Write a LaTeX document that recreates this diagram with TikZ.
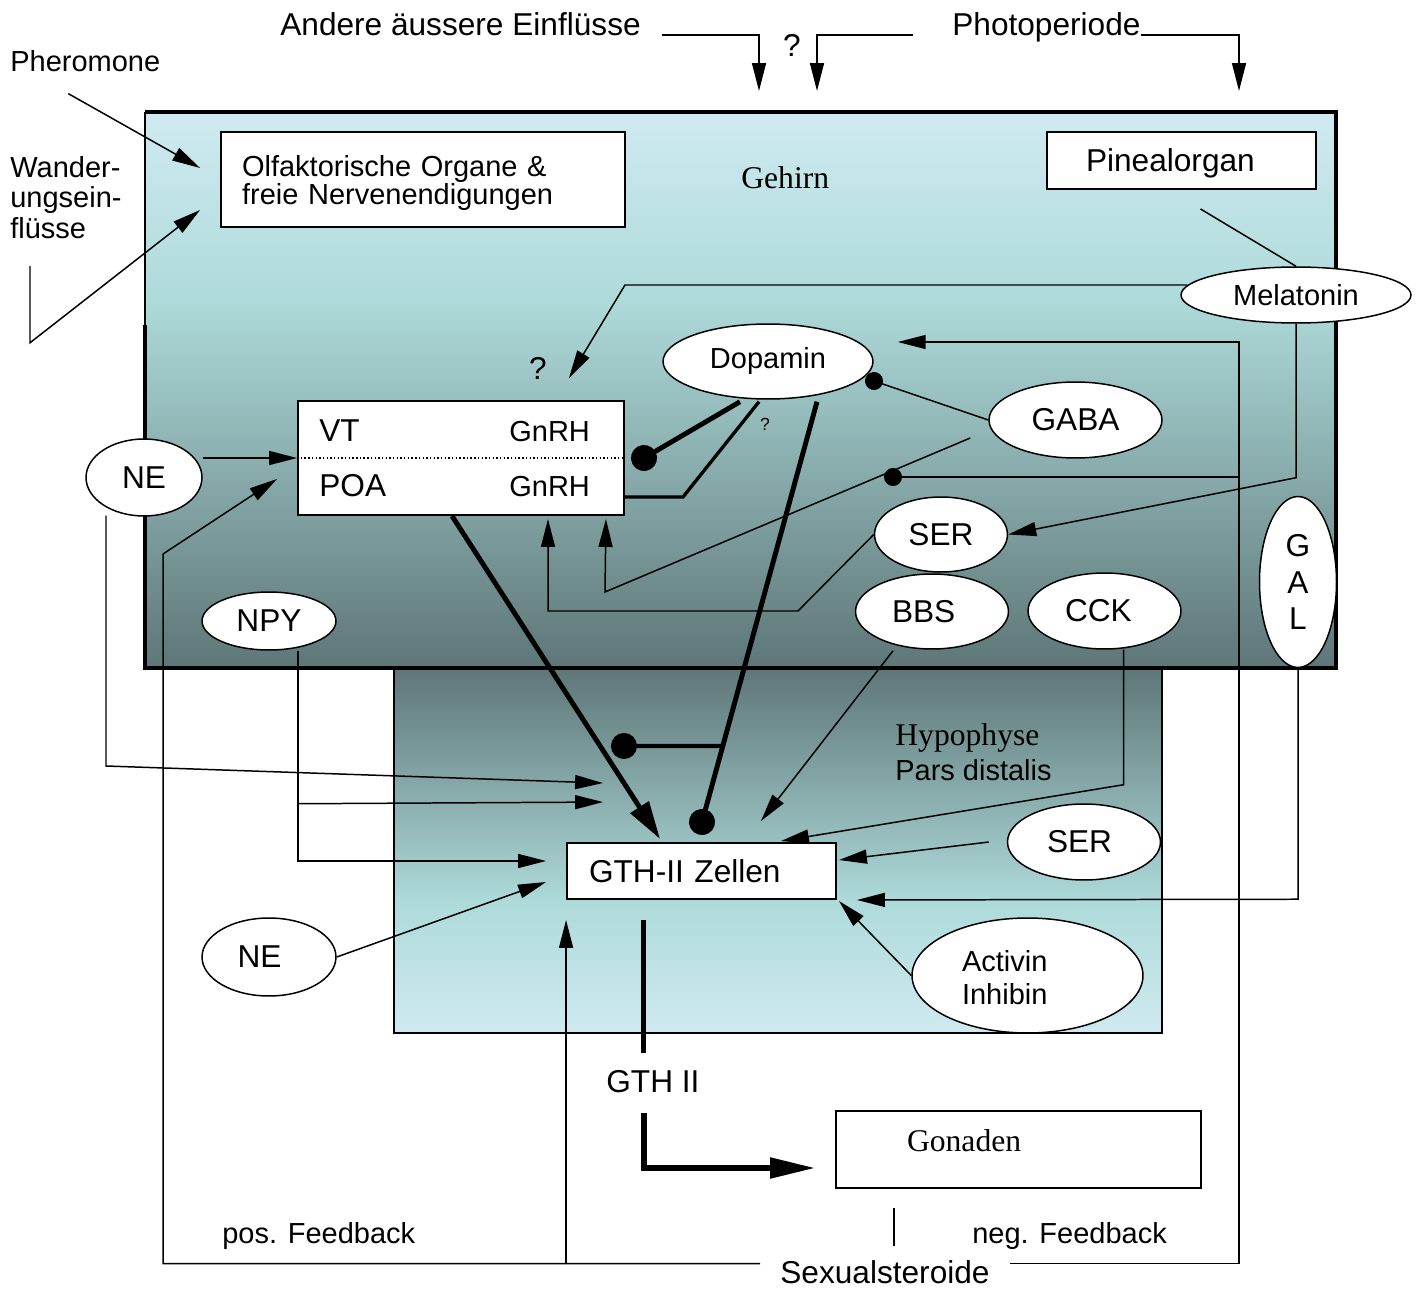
\documentclass[tikz,border=0pt]{standalone}
\usepackage{fontspec}
\setmainfont{Liberation Sans}
\newfontfamily\timesfont{Liberation Serif}
\usepackage{xcolor}
\usepackage{tikz}
\usetikzlibrary{positioning}
\usetikzlibrary{arrows.meta}
\usetikzlibrary{shapes.geometric}
\usetikzlibrary{calc}

\definecolor{paleblue}{RGB}{207,234,240}
\definecolor{midteal}{RGB}{174,218,218}
\definecolor{slateteal}{RGB}{94,118,119}
\pgfdeclareverticalshading{brainshade}{100bp}{color(0bp)=(slateteal); color(25bp)=(slateteal); color(58bp)=(midteal); color(75bp)=(paleblue); color(100bp)=(paleblue)}
\pgfdeclareverticalshading{hypshade}{100bp}{color(0bp)=(paleblue); color(25bp)=(paleblue); color(43bp)=(midteal); color(75bp)=(slateteal); color(100bp)=(slateteal)}

\newcommand\bigsz{\fontsize{18}{21}\selectfont}
\newcommand\smallsz{\fontsize{16.5}{17.3}\selectfont}

\tikzset{
  lbl/.style={inner sep=0pt, font=\smallsz},
  biglbl/.style={inner sep=0pt, font=\bigsz},
  organbox/.style={draw, line width=1.1pt, fill=white, align=left, inner ysep=0pt},
  hormone/.style={ellipse, draw, line width=0.85pt, fill=white, inner sep=0pt, font=\bigsz},
  thinline/.style={line width=0.85pt},
  arr/.style={line width=0.85pt, -{Triangle[length=0.56cm,width=0.28cm]}},
  thickarr/.style={line width=2.8pt, -{Triangle[length=0.76cm,width=0.42cm]}},
  gonarr/.style={line width=3pt, -{Triangle[length=0.9cm,width=0.4cm]}},
  thickline/.style={line width=2.8pt},
  smalldot/.style={line width=0.85pt, -{Circle[length=0.36cm]}, shorten >=-0.18cm},
  bigdot/.style={line width=2.8pt, -{Circle[length=0.52cm]}, shorten >=-0.26cm}
}

\begin{document}
\begin{tikzpicture}[x=0.02cm, y=-0.02cm]
  \useasboundingbox (0,0) rectangle (1421,1291);

  % Hypophyse and Gehirn
  \shade[shading=hypshade] (394,668) rectangle (1162,1033);
  \draw[line width=1.5pt] (394,668) rectangle (1162,1033);
  \shade[shading=brainshade] (145,112) rectangle (1336,668);
  \draw[thinline] (145,112) -- (145,325);
  \draw[line width=2.3pt] (145,325) -- (145,668) -- (1336,668) -- (1336,112) -- (145,112);

  % labels
  \node[biglbl, anchor=base west] (andere) at (280,36) {Andere äussere Einflüsse};
  \node[biglbl, anchor=base west] (photo) at (952,36) {Photoperiode};
  \node[biglbl, anchor=base] (q1) at (792,57) {?};
  \node[lbl, anchor=base west] (phero) at (10,72) {Pheromone};
  \node[lbl, anchor=north west, align=left] (wander) at (10,156) {Wander-\\ungsein-\\flüsse};
  \node[biglbl, anchor=base west, font=\timesfont\bigsz] (gehirn) at (741,189) {Gehirn};
  \node[biglbl, anchor=base west, font=\timesfont\bigsz] (hypo) at (895,745) {Hypophyse};
  \node[lbl, anchor=base west] (pars) at (895,780) {Pars distalis};
  \node[biglbl, anchor=base] (q2) at (538,379) {?};
  \node[lbl, anchor=base, font=\fontsize{10}{11}\selectfont] (q3) at (765,430) {?};
  \node[biglbl, anchor=base west] (gthii) at (606,1092) {GTH II};
  \node[lbl, anchor=base west] (posfb) at (222,1243) {pos. Feedback};
  \node[lbl, anchor=base west] (negfb) at (972,1243) {neg. Feedback};
  \node[biglbl, anchor=base west] (sexst) at (780,1283) {Sexualsteroide};

  % boxes
  \node[organbox, minimum width=8.08cm, minimum height=1.9cm, text width=7.24cm, inner xsep=0.42cm,
        font=\fontsize{16.5}{16.5}\selectfont, text height=0.42cm, text depth=0.56cm] (olf) at (423,179.5)
        {Olfaktorische Organe \&\\freie Nervenendigungen};
  \node[organbox, minimum width=5.38cm, minimum height=1.14cm, text width=3.82cm, inner xsep=0.78cm,
        font=\bigsz, text height=0.5cm, text depth=0.04cm] (pineal) at (1181.5,160.5) {Pinealorgan};
  \node[organbox, minimum width=6.52cm, minimum height=2.28cm] (gnrh) at (461,458) {};
  \draw[line width=0.8pt, dash pattern=on 0.8pt off 1.3pt] (gnrh.west) -- (gnrh.east);
  \node[biglbl, anchor=base west] (vt) at (319,441) {VT};
  \node[lbl, anchor=base west] (gnrhvt) at (509,441) {GnRH};
  \node[biglbl, anchor=base west] (poa) at (319,496) {POA};
  \node[lbl, anchor=base west] (gnrhpoa) at (509,496) {GnRH};
  \node[organbox, minimum width=5.38cm, minimum height=1.12cm, text width=4.5cm, inner xsep=0.44cm,
        font=\bigsz] (gth) at (701.5,871) {GTH-II Zellen};
  \node[organbox, minimum width=7.3cm, minimum height=1.54cm, text width=4.46cm, inner xsep=1.42cm,
        font=\timesfont\bigsz, text height=0.42cm, text depth=0.36cm] (gonaden) at (1018.5,1149.5) {Gonaden};

  % hormones
  \node[hormone, font=\smallsz, minimum width=4.6cm, minimum height=1.12cm] (mel) at (1296,295) {Melatonin};
  \node[hormone, font=\smallsz, minimum width=4.2cm, minimum height=1.5cm] (dopa) at (768,361.5) {Dopamin};
  \node[hormone, minimum width=3.46cm, minimum height=1.52cm] (gaba) at (1075.5,420) {GABA};
  \node[hormone, minimum width=2.66cm, minimum height=1.5cm] (ser1) at (941,534.5) {SER};
  \node[hormone, minimum width=3.06cm, minimum height=1.5cm, text width=1.6cm, align=left] (bbs) at (932,611.5) {BBS};
  \node[hormone, minimum width=3.06cm, minimum height=1.52cm, text width=1.58cm, align=left] (cck) at (1104.5,611) {CCK};
  \node[hormone, minimum width=1.54cm, minimum height=3.42cm, align=center] (gal) at (1298,582) {G\\A\\L};
  \node[hormone, minimum width=2.32cm, minimum height=1.54cm] (ne1) at (144,477.5) {NE};
  \node[hormone, minimum width=2.68cm, minimum height=1.16cm] (npy) at (269,621) {NPY};
  \node[hormone, minimum width=2.68cm, minimum height=1.56cm, text width=1.26cm, align=left] (ne2) at (269,957) {NE};
  \node[hormone, minimum width=3.06cm, minimum height=1.52cm, text width=1.48cm, align=left] (ser2) at (1084,842) {SER};
  \node[hormone, font=\fontsize{16.5}{19.3}\selectfont, minimum width=4.62cm, minimum height=2.3cm,
        text width=2.62cm, align=left, text height=0.42cm, text depth=0.6cm] (act) at (1027.5,975.5) {Activin\\Inhibin};

  \coordinate (inA) at (759,91);
  \coordinate (inB) at (817,91);
  \coordinate (inC) at (1239,91);
  \coordinate (fbr) at (1239,342);
  \coordinate (fbase) at ($(sexst.north west)+(0,4)$);
  \coordinate (dopaout) at ($(dopa.south)+(49,2)$);
  \coordinate (gthdot) at (702,822);
  \coordinate (crossdot) at (624,746);
  \coordinate (vtdot) at (644,458);
  \coordinate (dopadot) at (874,381);
  \coordinate (gabadot) at (893,477);

  % outer influences
  \draw[arr] (andere.base east) ++(21,-1) -| (inA);
  \draw[arr] (photo.base west) ++(-39,-1) -| (inB);
  \draw[arr] (photo.base east) ++(0,-1) -| (inC);
  \draw[arr] (phero.south) ++(-17,21) -- ($(olf.west)+(-20,-11.5)$);
  \draw[arr] (wander.south west) ++(20,27) -- ++(0,77) -- ($(olf.west)+(-20,30.5)$);

  % Gehirn
  \draw[thinline] (pineal.south) ++(19,19) -- (mel.north);
  \draw[arr] (mel.west) ++(7,-10) -- (625,285) -- ($(gnrh.north)+(108,-22)$);
  \draw[arr] (mel.south) -- ++(0,154) -- (ser1.east);
  \draw[smalldot] (gaba.west) -- (dopadot);
  \draw[arr] (gaba.west) ++(-18,18) -- (605,592) -- ($(gnrh.south east)+(-19,3)$);
  \draw[arr] (ser1.west) -- (798,611) -| ($(gnrh.south)+(87,3)$);
  \draw[arr] (ne1.east |- gnrh.west) -- (gnrh.west);
  \draw[bigdot] (dopaout) -- (gthdot);
  \draw[bigdot, line width=2.4pt] ($(dopaout)!0.819!(gthdot)$) -- (crossdot);
  \draw[bigdot] (dopa.south) ++(-28,2) -- (vtdot);
  \draw[line width=1.9pt] (dopa.south) ++(-9,2) -- (683,497) -- ($(gnrh.east)+(0,39)$);

  % Hypophyse
  \draw[thickarr] ($(gnrh.south)+(-9,0)$) -- ($(gth.north west)+(94,-3)$);
  \draw[arr] (ne1.south) ++(-38,-1) -- (106,766) -- ($(gth.north west)+(37,-59)$);
  \draw[arr] (npy.south) ++(29,0) |- ($(gth.west)+(-20,-10)$);
  \draw[arr] ($(npy.south)+(29,153)$) -- ($(gth.north west)+(37,-40)$);
  \draw[arr] (ne2.east) -- ($(gth.west)+(-20,11)$);
  \draw[arr] (bbs.south) ++(-39,1) -- ($(gth.north east)+(-76,-21)$);
  \draw[arr] (cck.south) ++(19,0) -- ++(0,135) -- ($(gth.north east)+(-56,-1)$);
  \draw[arr] (ser2.west) ++(-18,0) -- ($(gth.east)+(2,-11)$);
  \draw[arr] (gal.south) -- ++(0,231) -- ($(gth.south east)+(20,0)$);
  \draw[arr] (act.west) -- ($(gth.south east)+(2,1)$);

  % GTH II and feedback
  \draw[thickline] (gthii.north) ++(-9,-17) -- ++(0,-133);
  \draw[gonarr] (gthii.south) ++(-9,20) |- ($(gonaden.west)+(-20,18.5)$);
  \draw[thinline] (gonaden.south) ++(-124.5,19) -- ++(0,38);
  \draw[arr] ($(fbase)+(-20,0)$) -| ($(gnrh.south west)+(-134,38)$) -- ($(gnrh.south west)+(-20,-37)$);
  \draw[arr] (gth.south west |- fbase) -- ($(gth.south west)+(0,20)$);
  \draw[arr] ($(fbase -| sexst.east)+(20,0)$) -| (fbr) -- ($(dopa.east)+(24,-19.5)$);
  \draw[smalldot] (fbr |- gabadot) -- (gabadot);
\end{tikzpicture}
\end{document}
